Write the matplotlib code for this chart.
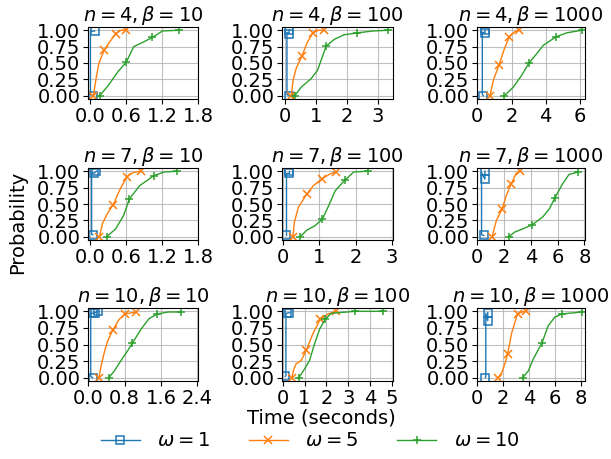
import matplotlib
matplotlib.use("Agg")
import matplotlib.pyplot as plt

FS = 14
plt.rcParams['font.size'] = FS
plt.rcParams['mathtext.fontset'] = 'dejavusans'

n_values = [4, 7, 10]
beta_values = [10, 100, 1000]
omega_labels = [r'$\omega = 1$', r'$\omega = 5$', r'$\omega = 10$']

# curves[(n, beta)] = [(x, y, marker_idx) for omega=1, 5, 10]
curves = {
    (4, 10): [
        ([0.06, 0.01, 0.01, 0.08], [0.0, 0.02, 0.98, 0.99], [0, 3]),
        ([0.06, 0.10, 0.15, 0.24, 0.33, 0.43, 0.52, 0.61],
         [0.0, 0.24, 0.49, 0.70, 0.82, 0.95, 1.0, 1.0], [0, 3, 5, 7]),
        ([0.165, 0.31, 0.47, 0.605, 0.73, 0.89, 1.04, 1.21, 1.49],
         [0.0, 0.16, 0.37, 0.51, 0.75, 0.82, 0.89, 0.99, 1.0], [0, 3, 6, 8]),
    ],
    (4, 100): [
        ([0.13, 0.07, 0.07, 0.14, 0.14], [0.0, 0.02, 0.97, 0.95, 1.0], [0, 3, 4]),
        ([0.21, 0.27, 0.37, 0.55, 0.72, 0.91, 1.09, 1.28],
         [0.0, 0.24, 0.42, 0.60, 0.81, 0.96, 1.0, 1.0], [0, 3, 5, 7]),
        ([0.32, 0.53, 0.85, 1.06, 1.34, 1.60, 1.91, 2.34, 2.87, 3.35],
         [0.0, 0.13, 0.26, 0.39, 0.76, 0.86, 0.93, 0.96, 0.99, 1.0], [0, 4, 7, 9]),
    ],
    (4, 1000): [
        ([0.35, 0.29, 0.29, 0.45, 0.45], [0.0, 0.02, 0.97, 0.96, 1.0], [0, 3, 4]),
        ([0.74, 0.94, 1.27, 1.56, 1.87, 2.20, 2.44],
         [0.0, 0.24, 0.47, 0.70, 0.90, 0.98, 1.0], [0, 2, 4, 6]),
        ([1.58, 2.10, 2.59, 3.02, 3.47, 3.86, 4.60, 5.22, 6.10],
         [0.0, 0.13, 0.31, 0.50, 0.64, 0.77, 0.90, 0.96, 1.0], [0, 3, 6, 8]),
    ],
    (7, 10): [
        ([0.05, 0.03, 0.03, 0.07, 0.11], [0.03, 0.04, 0.98, 0.97, 1.0], [0, 3, 4]),
        ([0.16, 0.21, 0.29, 0.39, 0.50, 0.62, 0.72, 0.86],
         [0.0, 0.20, 0.35, 0.49, 0.72, 0.92, 0.98, 1.0], [0, 3, 5, 7]),
        ([0.28, 0.43, 0.56, 0.66, 0.83, 1.06, 1.24, 1.45],
         [0.0, 0.12, 0.32, 0.58, 0.78, 0.93, 0.99, 1.0], [0, 3, 5, 7]),
    ],
    (7, 100): [
        ([0.09, 0.09, 0.09, 0.16, 0.16], [0.02, 0.03, 0.97, 0.97, 1.0], [0, 3, 4]),
        ([0.28, 0.32, 0.43, 0.66, 0.84, 1.07, 1.30, 1.47],
         [0.0, 0.22, 0.45, 0.65, 0.78, 0.88, 0.96, 0.99], [0, 3, 5, 7]),
        ([0.48, 0.66, 0.89, 1.09, 1.26, 1.44, 1.70, 1.95, 2.34],
         [0.0, 0.10, 0.17, 0.27, 0.47, 0.70, 0.86, 0.99, 1.0], [0, 3, 6, 8]),
    ],
    (7, 1000): [
        ([0.49, 0.32, 0.32, 0.57, 0.57], [0.02, 0.03, 0.98, 0.88, 1.0], [0, 3, 4]),
        ([1.11, 1.43, 1.85, 2.17, 2.54, 2.91, 3.20],
         [0.0, 0.25, 0.42, 0.63, 0.81, 0.97, 1.0], [0, 2, 4, 6]),
        ([2.36, 2.78, 3.28, 4.09, 4.88, 5.37, 5.79, 6.35, 6.85, 7.54],
         [0.0, 0.07, 0.11, 0.18, 0.30, 0.42, 0.59, 0.80, 0.95, 0.99], [0, 3, 6, 9]),
    ],
    (10, 10): [
        ([0.09, 0.05, 0.05, 0.10, 0.15, 0.20], [0.0, 0.02, 0.97, 0.97, 0.98, 1.0], [0, 3, 4, 5]),
        ([0.23, 0.28, 0.36, 0.43, 0.54, 0.68, 0.81, 1.06],
         [0.0, 0.18, 0.41, 0.56, 0.72, 0.88, 0.96, 0.99], [0, 4, 6, 7]),
        ([0.45, 0.57, 0.72, 0.87, 0.97, 1.16, 1.34, 1.52, 1.77, 2.05],
         [0.0, 0.10, 0.26, 0.41, 0.52, 0.73, 0.89, 0.96, 0.99, 0.99], [0, 4, 7, 9]),
    ],
    (10, 100): [
        ([0.12, 0.15, 0.15, 0.18, 0.31], [0.02, 0.03, 0.97, 0.97, 0.98], [0, 3, 4]),
        ([0.42, 0.51, 0.62, 0.85, 1.08, 1.38, 1.72, 2.08, 2.43],
         [0.0, 0.13, 0.21, 0.26, 0.41, 0.66, 0.88, 0.96, 1.0], [0, 4, 6, 8]),
        ([0.74, 1.00, 1.23, 1.46, 1.69, 1.94, 2.23, 3.31, 4.57],
         [0.0, 0.13, 0.26, 0.51, 0.73, 0.88, 0.97, 1.0, 1.0], [0, 5, 7, 8]),
    ],
    (10, 1000): [
        ([0.63, 0.66, 0.66, 0.81, 0.81], [0.0, 0.02, 0.97, 0.86, 0.98], [0, 3, 4]),
        ([1.60, 1.90, 2.16, 2.34, 2.66, 3.10, 3.43, 3.76],
         [0.0, 0.08, 0.23, 0.36, 0.68, 0.96, 0.99, 1.0], [0, 3, 5, 7]),
        ([3.50, 3.93, 4.31, 5.00, 5.46, 5.96, 6.52, 8.05],
         [0.0, 0.10, 0.28, 0.53, 0.78, 0.91, 0.96, 0.99], [0, 3, 6, 7]),
    ],
}

xticks = {
    (4, 10): [0.0, 0.6, 1.2, 1.8], (4, 100): [0, 1, 2, 3], (4, 1000): [0, 2, 4, 6],
    (7, 10): [0.0, 0.6, 1.2, 1.8], (7, 100): [0, 1, 2, 3], (7, 1000): [0, 2, 4, 6, 8],
    (10, 10): [0.0, 0.8, 1.6, 2.4], (10, 100): [0, 1, 2, 3, 4, 5], (10, 1000): [0, 2, 4, 6, 8],
}
xlims = {
    (4, 10): (-0.03, 1.8), (4, 100): (-0.09, 3.5), (4, 1000): (-0.02, 6.3),
    (7, 10): (-0.03, 1.8), (7, 100): (-0.02, 3.03), (7, 1000): (-0.02, 8.05),
    (10, 10): (-0.01, 2.42), (10, 100): (-0.03, 5.05), (10, 1000): (-0.02, 8.3),
}
yticks = [0.0, 0.25, 0.5, 0.75, 1.0]
ytick_labels = ['0.00', '0.25', '0.50', '0.75', '1.00']

colors = ['#1f77b4', '#ff7f0e', '#2ca02c']
markers = ['s', 'x', '+']

W, H = 611, 459
fig = plt.figure(figsize=(W / 100, H / 100), dpi=100)
cols_px = [(88, 198), (282, 393), (477, 585)]
rows_px = [(27, 99), (168, 240), (308, 381)]

handles = []
for i, n in enumerate(n_values):
    for j, b in enumerate(beta_values):
        l, r = cols_px[j]
        t, btm = rows_px[i]
        ax = fig.add_axes([l / W, 1 - btm / H, (r - l) / W, (btm - t) / H])
        for k, (x, y, mi) in enumerate(curves[(n, b)]):
            line, = ax.plot(x, y, color=colors[k], lw=1.0, marker=markers[k],
                            markevery=mi, markersize=6 if k else 5.5,
                            markerfacecolor='none' if k == 0 else colors[k],
                            markeredgewidth=1.1, label=omega_labels[k])
            if i == 0 and j == 0:
                handles.append(line)
        ax.set_xlim(*xlims[(n, b)])
        ax.set_ylim(-0.05, 1.05)
        ax.set_xticks(xticks[(n, b)])
        ax.set_yticks(yticks)
        ax.set_yticklabels(ytick_labels)
        ax.tick_params(labelsize=FS, pad=2, length=3.5)
        ax.grid(True, color='#b0b0b0', lw=0.8, alpha=0.8)
        ax.set_title(r'$n = %d, \beta = %d$' % (n, b), fontsize=FS, pad=3)

fig.text(18 / W, 1 - 222 / H, 'Probability', rotation=90, ha='center', va='center', fontsize=FS)
fig.text(321 / W, 1 - 418 / H, 'Time (seconds)', ha='center', va='center', fontsize=FS)
fig.legend(handles=handles, loc='center', bbox_to_anchor=(310 / W, 1 - 441 / H), ncol=3,
           frameon=False, fontsize=FS, handlelength=2.0, columnspacing=2.0, handletextpad=0.9)

fig.savefig('out.png', dpi=100)
